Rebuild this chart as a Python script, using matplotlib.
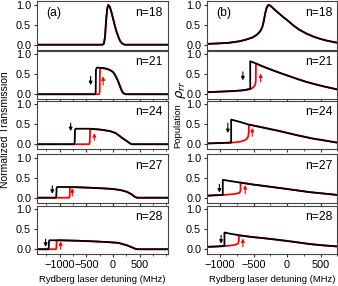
import matplotlib
matplotlib.use('Agg')
import matplotlib.pyplot as plt
from matplotlib.ticker import MultipleLocator, FixedLocator, FormatStrFormatter

plt.rcParams['font.family'] = ['Liberation Sans', 'DejaVu Sans']
plt.rcParams['mathtext.fontset'] = 'dejavusans'

n_labels = ['n=18', 'n=21', 'n=24', 'n=27', 'n=28']
x_ticks = [-1000, -500, 0, 500]
y_ticks = [0.0, 0.5, 1.0]

# ---------------- (a) normalized transmission ----------------
a18_k_x = [-1430, -200, -170, -150, -130, -110, -90, -60, -30, 0, 30, 60, 100, 130, 170, 220, 1030]
a18_k_y = [0, 0, 0.03, 0.2, 0.6, 0.9, 1.0, 0.95, 0.82, 0.66, 0.5, 0.35, 0.2, 0.1, 0.03, 0, 0]
a18_r_x = a18_k_x
a18_r_y = a18_k_y

a21_k_x = [-1430, -335, -325, -320, -300, -200, -120, -60, 0, 40, 70, 100, 125, 150, 175, 200, 240, 1030]
a21_k_y = [0, 0, 0.05, 0.62, 0.67, 0.66, 0.64, 0.61, 0.56, 0.48, 0.4, 0.31, 0.22, 0.13, 0.06, 0.02, 0, 0]
a21_r_x = [-1430, -262, -250, -245, -235, -200, -120, -60, 0, 40, 70, 100, 125, 150, 175, 200, 240, 1030]
a21_r_y = [0, 0, 0.05, 0.6, 0.66, 0.66, 0.64, 0.61, 0.56, 0.48, 0.4, 0.31, 0.22, 0.13, 0.06, 0.02, 0, 0]

a24_k_x = [-1430, -730, -718, -713, -700, -600, -430, -250, -56, 50, 131, 200, 257, 310, 350, 1030]
a24_k_y = [0, 0, 0.05, 0.36, 0.39, 0.39, 0.39, 0.37, 0.33, 0.28, 0.2, 0.13, 0.08, 0.03, 0, 0]
a24_r_x = [-1430, -450, -438, -430, -420, -250, -56, 50, 131, 200, 257, 310, 350, 1030]
a24_r_y = [0, 0, 0.03, 0.35, 0.385, 0.37, 0.33, 0.28, 0.2, 0.13, 0.08, 0.03, 0, 0]

a27_k_x = [-1430, -1075, -1063, -1057, -1045, -900, -700, -500, -250, 0, 150, 257, 330, 413, 450, 1030]
a27_k_y = [0, 0, 0.04, 0.24, 0.27, 0.27, 0.265, 0.255, 0.24, 0.22, 0.19, 0.15, 0.1, 0.02, 0, 0]
a27_r_x = [-1430, -825, -813, -807, -795, -700, -500, -250, 0, 150, 257, 330, 413, 450, 1030]
a27_r_y = [0, 0, 0.03, 0.24, 0.265, 0.265, 0.255, 0.24, 0.22, 0.19, 0.15, 0.1, 0.02, 0, 0]

a28_k_x = [-1430, -1215, -1205, -1200, -1190, -1000, -700, -400, -100, 100, 257, 350, 420, 460, 1030]
a28_k_y = [0, 0, 0.04, 0.2, 0.225, 0.225, 0.215, 0.2, 0.18, 0.16, 0.1, 0.05, 0.01, 0, 0]
a28_r_x = [-1430, -1072, -1062, -1057, -1047, -1000, -700, -400, -100, 100, 257, 350, 420, 460, 1030]
a28_r_y = [0, 0, 0.03, 0.2, 0.222, 0.225, 0.215, 0.2, 0.18, 0.16, 0.1, 0.05, 0.01, 0, 0]

# arrows (x, y_start, y_end) : black down, red up
a_k_arrows = [None, (-420, 0.45, 0.23), (-794, 0.53, 0.33), (-1138, 0.30, 0.10), (-1263, 0.25, 0.06)]
a_r_arrows = [None, (-185, 0.23, 0.45), (-350, 0.10, 0.28), (-763, 0.04, 0.24), (-982, 0.00, 0.20)]

# ---------------- (b) Rydberg population ----------------
b18_k_x = [-1200, -1000, -860, -700, -610, -520, -460, -420, -390, -365, -345, -325, -305, -285, -270,
           -240, -210, -150, -60, 30, 90, 180, 290, 400, 490, 600, 750]
b18_k_y = [0.02, 0.035, 0.05, 0.09, 0.13, 0.18, 0.24, 0.3, 0.37, 0.47, 0.62, 0.8, 0.93, 0.99, 1.0,
           0.97, 0.92, 0.83, 0.7, 0.58, 0.49, 0.38, 0.28, 0.2, 0.15, 0.1, 0.05]
b18_r_x = b18_k_x
b18_r_y = b18_k_y

b21_k_x = [-1200, -1000, -800, -650, -570, -550, -550, -460, -350, -210, -80, 40, 160, 290, 420, 540, 750]
b21_k_y = [0.05, 0.065, 0.08, 0.1, 0.125, 0.13, 0.83, 0.77, 0.69, 0.6, 0.52, 0.45, 0.38, 0.31, 0.25, 0.2, 0.12]
b21_r_x = [-1200, -1000, -800, -650, -570, -550, -530, -510, -490, -475, -468, -465, -460, -350, -210,
           -80, 40, 160, 290, 420, 540, 750]
b21_r_y = [0.05, 0.065, 0.08, 0.1, 0.125, 0.13, 0.145, 0.165, 0.2, 0.25, 0.32, 0.76, 0.77, 0.69, 0.6,
           0.52, 0.45, 0.38, 0.31, 0.25, 0.2, 0.12]

b24_k_x = [-1200, -1000, -850, -835, -835, -700, -585, -360, -110, 140, 390, 540, 750]
b24_k_y = [0.02, 0.03, 0.04, 0.04, 0.62, 0.56, 0.5, 0.42, 0.33, 0.23, 0.14, 0.1, 0.04]
b24_r_x = [-1200, -1000, -850, -835, -760, -700, -650, -615, -590, -578, -572, -570, -570, -360, -110,
           140, 390, 540, 750]
b24_r_y = [0.02, 0.03, 0.04, 0.04, 0.05, 0.065, 0.09, 0.12, 0.16, 0.22, 0.3, 0.35, 0.49, 0.42, 0.33,
           0.23, 0.14, 0.1, 0.04]

b27_k_x = [-1200, -1100, -960, -960, -850, -695, -500, -360, -180, 0, 170, 340, 520, 750]
b27_k_y = [0.05, 0.06, 0.07, 0.45, 0.42, 0.38, 0.33, 0.3, 0.26, 0.22, 0.18, 0.14, 0.11, 0.07]
b27_r_x = [-1200, -1100, -960, -880, -800, -750, -715, -700, -695, -695, -500, -360, -180, 0, 170,
           340, 520, 750]
b27_r_y = [0.05, 0.06, 0.07, 0.08, 0.09, 0.105, 0.12, 0.15, 0.2, 0.38, 0.33, 0.3, 0.26, 0.22, 0.18,
           0.14, 0.11, 0.07]

b28_k_x = [-1200, -1100, -935, -935, -850, -710, -540, -360, -180, -10, 170, 340, 520, 750]
b28_k_y = [0.06, 0.065, 0.08, 0.42, 0.39, 0.35, 0.31, 0.28, 0.245, 0.21, 0.17, 0.13, 0.1, 0.07]
b28_r_x = [-1200, -1100, -935, -860, -810, -760, -735, -725, -720, -720, -540, -360, -180, -10, 170,
           340, 520, 750]
b28_r_y = [0.06, 0.065, 0.08, 0.09, 0.1, 0.12, 0.14, 0.17, 0.22, 0.35, 0.31, 0.28, 0.245, 0.21, 0.17,
           0.13, 0.1, 0.07]

b_k_arrows = [None, (-660, 0.56, 0.35), (-885, 0.53, 0.28), (-1010, 0.34, 0.13), (-985, 0.35, 0.14)]
b_r_arrows = [None, (-395, 0.31, 0.52), (-520, 0.20, 0.41), (-625, 0.10, 0.32), (-660, 0.06, 0.27)]

a_curves = [(a18_k_x, a18_k_y, a18_r_x, a18_r_y), (a21_k_x, a21_k_y, a21_r_x, a21_r_y),
            (a24_k_x, a24_k_y, a24_r_x, a24_r_y), (a27_k_x, a27_k_y, a27_r_x, a27_r_y),
            (a28_k_x, a28_k_y, a28_r_x, a28_r_y)]
b_curves = [(b18_k_x, b18_k_y, b18_r_x, b18_r_y), (b21_k_x, b21_k_y, b21_r_x, b21_r_y),
            (b24_k_x, b24_k_y, b24_r_x, b24_r_y), (b27_k_x, b27_k_y, b27_r_x, b27_r_y),
            (b28_k_x, b28_k_y, b28_r_x, b28_r_y)]

W, H = 338, 286
fig = plt.figure(figsize=(W / 100, H / 100), dpi=100)

tops = [1, 50.5, 100.5, 154, 205.5]
ph = 48.5
cols = [(36.7, 168.0, (-1430, 1030), a_curves, a_k_arrows, a_r_arrows, '(a)'),
        (206.7, 337.3, (-1200, 750), b_curves, b_k_arrows, b_r_arrows, '(b)')]

RED = '#ff0000'
for (x0, x1, xlim, curves, karr, rarr, tag) in cols:
    for i in range(5):
        ax = fig.add_axes([x0 / W, 1 - (tops[i] + ph) / H, (x1 - x0) / W, ph / H])
        kx, ky, rx, ry = curves[i]
        ax.plot(rx, ry, color=RED, lw=1.3, solid_joinstyle='round')
        ax.plot(kx, ky, color='black', lw=1.3, solid_joinstyle='round')
        if karr[i] is not None:
            xa, ys, ye = karr[i]
            ax.annotate('', xy=(xa, ye), xytext=(xa, ys),
                        arrowprops=dict(arrowstyle='-|>', color='black', lw=0.8,
                                        mutation_scale=5, shrinkA=0, shrinkB=0))
            xa, ys, ye = rarr[i]
            ax.annotate('', xy=(xa, ye), xytext=(xa, ys),
                        arrowprops=dict(arrowstyle='-|>', color=RED, lw=0.8,
                                        mutation_scale=5, shrinkA=0, shrinkB=0))
        ax.set_xlim(*xlim)
        ax.set_ylim(-0.12, 1.1)
        ax.xaxis.set_major_locator(FixedLocator(x_ticks))
        ax.xaxis.set_minor_locator(MultipleLocator(250))
        ax.yaxis.set_major_locator(FixedLocator(y_ticks))
        ax.yaxis.set_major_formatter(FormatStrFormatter('%.1f'))
        ax.tick_params(which='major', direction='out', length=2.5, width=0.8,
                       labelsize=7.8, pad=1.5, colors='#333333', labelcolor='black')
        ax.tick_params(which='minor', direction='out', length=1.5, width=0.6, colors='#333333')
        for s in ax.spines.values():
            s.set_linewidth(0.8)
            s.set_color('#444444')
        if i < 4:
            ax.tick_params(axis='x', labelbottom=False)
        ax.text(0.96, 0.88, n_labels[i], transform=ax.transAxes, ha='right', va='top', fontsize=8.7)
        if i == 0:
            ax.text(0.07, 0.88, tag, transform=ax.transAxes, ha='left', va='top', fontsize=8.7)
        if i == 4:
            ax.set_xlabel('Rydberg laser detuning (MHz)', fontsize=6.8, labelpad=4)

fig.text(5.5 / W, 1 - 130 / H, 'Normalized Transmission', rotation=90, ha='center', va='center', fontsize=7.5)
fig.text(178 / W, 1 - 125.5 / H, 'Population', rotation=90, ha='center', va='center', fontsize=6.8)
fig.text(180.5 / W, 1 - 90 / H, r'$\rho_{rr}$', rotation=90, ha='center', va='center', fontsize=9.5)

fig.savefig('out.png', dpi=100)
